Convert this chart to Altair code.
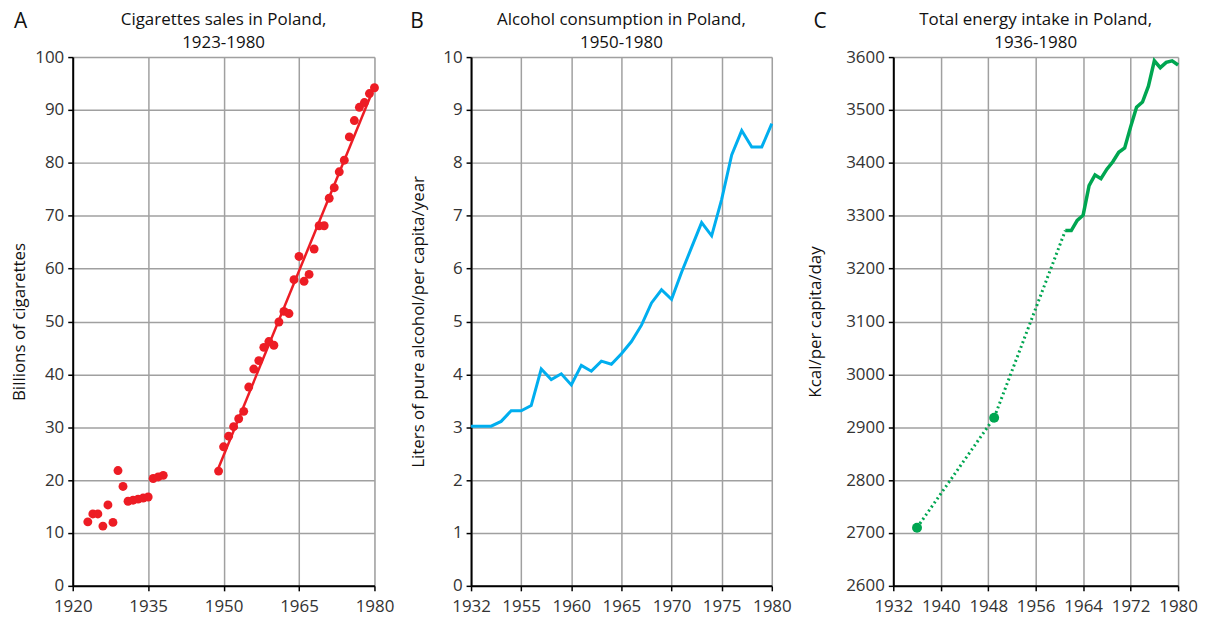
import altair as alt
import pandas as pd

# ---------- Panel A: cigarettes ----------
cig_pre_years = [1923, 1924, 1925, 1926, 1927, 1928, 1929, 1930, 1931, 1932, 1933, 1934, 1935, 1936, 1937, 1938]
cig_pre_vals = [12.1, 13.6, 13.6, 11.3, 15.3, 12.0, 21.8, 18.8, 16.0, 16.2, 16.4, 16.6, 16.8, 20.3, 20.6, 20.9]
cig_post_years = list(range(1949, 1981))
cig_post_vals = [21.7, 26.3, 28.3, 30.1, 31.6, 33.0, 37.6, 41.0, 42.6, 45.1, 46.2, 45.5, 49.9, 51.9, 51.5,
                 57.9, 62.3, 57.6, 58.9, 63.7, 68.1, 68.1, 73.3, 75.3, 78.3, 80.5, 84.9, 88.0, 90.5, 91.4, 93.1, 94.2]

# ---------- Panel B: alcohol ----------
alc_years = list(range(1950, 1981))
alc_vals = [3.02, 3.02, 3.02, 3.11, 3.31, 3.31, 3.41, 4.10, 3.90, 4.01, 3.80, 4.17, 4.06, 4.25, 4.19,
            4.39, 4.62, 4.93, 5.35, 5.60, 5.42, 5.93, 6.40, 6.87, 6.62, 7.31, 8.15, 8.61, 8.30, 8.30, 8.74]
alc_tick_values = [1950, 1955, 1960, 1965, 1970, 1975, 1980]
alc_tick_labels = ["1932", "1955", "1960", "1965", "1970", "1975", "1980"]

# ---------- Panel C: energy ----------
en_dot_years = [1936, 1949, 1961]
en_dot_vals = [2710, 2918, 3272]
en_marker_years = [1936, 1949]
en_marker_vals = [2710, 2918]
en_years = list(range(1961, 1981))
en_vals = [3272, 3272, 3291, 3301, 3357, 3377, 3370, 3388, 3402, 3420, 3428, 3468, 3505, 3515,
           3545, 3593, 3580, 3590, 3593, 3585]

# ---------- Titles ----------
letters = ["A", "B", "C"]
titles = [["Cigarettes sales in Poland,", "1923-1980"],
          ["Alcohol consumption in Poland,", "1950-1980"],
          ["Total energy intake in Poland,", "1936-1980"]]

FONT = "Open Sans"
RED = "#ed1c24"
BLUE = "#00aeef"
GREEN = "#00a651"
W_A, W_B, W_C, H = 303, 302, 286, 531


def y_axis(title, values, extent, tpad):
    return alt.Axis(title=title, values=values, grid=True, gridColor="#a0a0a0", gridWidth=1.5,
                    domainColor="#000", domainWidth=2, tickColor="#000", tickWidth=1.5, tickSize=5,
                    labelFont=FONT, labelFontSize=17, labelColor="#333", labelPadding=4, format="d",
                    titleFont=FONT, titleFontSize=17, titleFontWeight="normal", titleColor="#111",
                    titlePadding=tpad, minExtent=extent, maxExtent=extent)


def x_axis(values, label_expr=None):
    kw = dict(title=None, values=values, grid=True, gridColor="#a0a0a0", gridWidth=1.5,
              domainColor="#000", domainWidth=2, tickColor="#000", tickWidth=1.5, tickSize=5,
              labelFont=FONT, labelFontSize=17, labelColor="#333", labelPadding=8,
              labelFlush=False, format="d")
    if label_expr:
        kw["labelExpr"] = label_expr
    return alt.Axis(**kw)


def heading(idx, width, dx):
    lines = titles[idx]
    base = alt.Chart(pd.DataFrame({"t": [lines[0]]})).mark_text(
        font=FONT, fontSize=17, align="center", baseline="middle", color="#111"
    ).encode(text="t:N", x=alt.value(width / 2), y=alt.value(-37))
    sub = alt.Chart(pd.DataFrame({"t": [lines[1]]})).mark_text(
        font=FONT, fontSize=17, align="center", baseline="middle", color="#111"
    ).encode(text="t:N", x=alt.value(width / 2), y=alt.value(-14))
    let = alt.Chart(pd.DataFrame({"t": [letters[idx]]})).mark_text(
        font=FONT, fontSize=21, align="left", baseline="middle", color="#111"
    ).encode(text="t:N", x=alt.value(dx), y=alt.value(-35))
    return [base, sub, let]


# Panel A
df_pre = pd.DataFrame({"year": cig_pre_years, "val": cig_pre_vals})
df_post = pd.DataFrame({"year": cig_post_years, "val": cig_post_vals})
xa = alt.X("year:Q", scale=alt.Scale(domain=[1920, 1980], nice=False),
           axis=x_axis([1920, 1935, 1950, 1965, 1980]))
ya = alt.Y("val:Q", scale=alt.Scale(domain=[0, 100], nice=False),
           axis=y_axis("Billions of cigarettes", list(range(0, 101, 10)), 36, 8))
pts_pre = alt.Chart(df_pre).mark_circle(size=80, color=RED, opacity=1).encode(x=xa, y=ya)
pts_post = alt.Chart(df_post).mark_circle(size=80, color=RED, opacity=1).encode(x=xa, y=ya)
reg = alt.Chart(df_post).transform_regression("year", "val", extent=[1949, 1980]).mark_line(
    color=RED, strokeWidth=2.5).encode(x=xa, y=ya)
panel_a = alt.layer(reg, pts_pre, pts_post, *heading(0, W_A, -59)).properties(width=W_A, height=H)

# Panel B
df_alc = pd.DataFrame({"year": alc_years, "val": alc_vals})
expr_parts = " : ".join([f"datum.value == {v} ? '{l}'" for v, l in zip(alc_tick_values, alc_tick_labels)])
xb = alt.X("year:Q", scale=alt.Scale(domain=[1950, 1980], nice=False),
           axis=x_axis(alc_tick_values, expr_parts + " : datum.label"))
yb = alt.Y("val:Q", scale=alt.Scale(domain=[0, 10], nice=False),
           axis=y_axis("Liters of pure alcohol/per capita/year", list(range(0, 11)), 36, 8))
line_b = alt.Chart(df_alc).mark_line(color=BLUE, strokeWidth=3).encode(x=xb, y=yb)
panel_b = alt.layer(line_b, *heading(1, W_B, -61)).properties(width=W_B, height=H)

# Panel C
df_dot = pd.DataFrame({"year": en_dot_years, "val": en_dot_vals})
df_mark = pd.DataFrame({"year": en_marker_years, "val": en_marker_vals})
df_en = pd.DataFrame({"year": en_years, "val": en_vals})
xc = alt.X("year:Q", scale=alt.Scale(domain=[1932, 1980], nice=False),
           axis=x_axis(list(range(1932, 1981, 8))))
yc = alt.Y("val:Q", scale=alt.Scale(domain=[2600, 3600], nice=False),
           axis=y_axis("Kcal/per capita/day", list(range(2600, 3601, 100)), 57, 12))
dotted = alt.Chart(df_dot).mark_line(color=GREEN, strokeWidth=3, strokeDash=[2, 3]).encode(x=xc, y=yc)
marks_c = alt.Chart(df_mark).mark_circle(size=100, color=GREEN, opacity=1).encode(x=xc, y=yc)
solid = alt.Chart(df_en).mark_line(color=GREEN, strokeWidth=3.5).encode(x=xc, y=yc)
panel_c = alt.layer(dotted, solid, marks_c, *heading(2, W_C, -80)).properties(width=W_C, height=H)

chart = alt.hconcat(panel_a, panel_b, panel_c, spacing=14).properties(
    padding={"left": 2, "top": 1, "right": 0, "bottom": 0}
).configure_view(stroke="#000", strokeWidth=1.5).configure(background="white")

chart.save("out.html", embed_options={"renderer": "svg", "actions": False})
